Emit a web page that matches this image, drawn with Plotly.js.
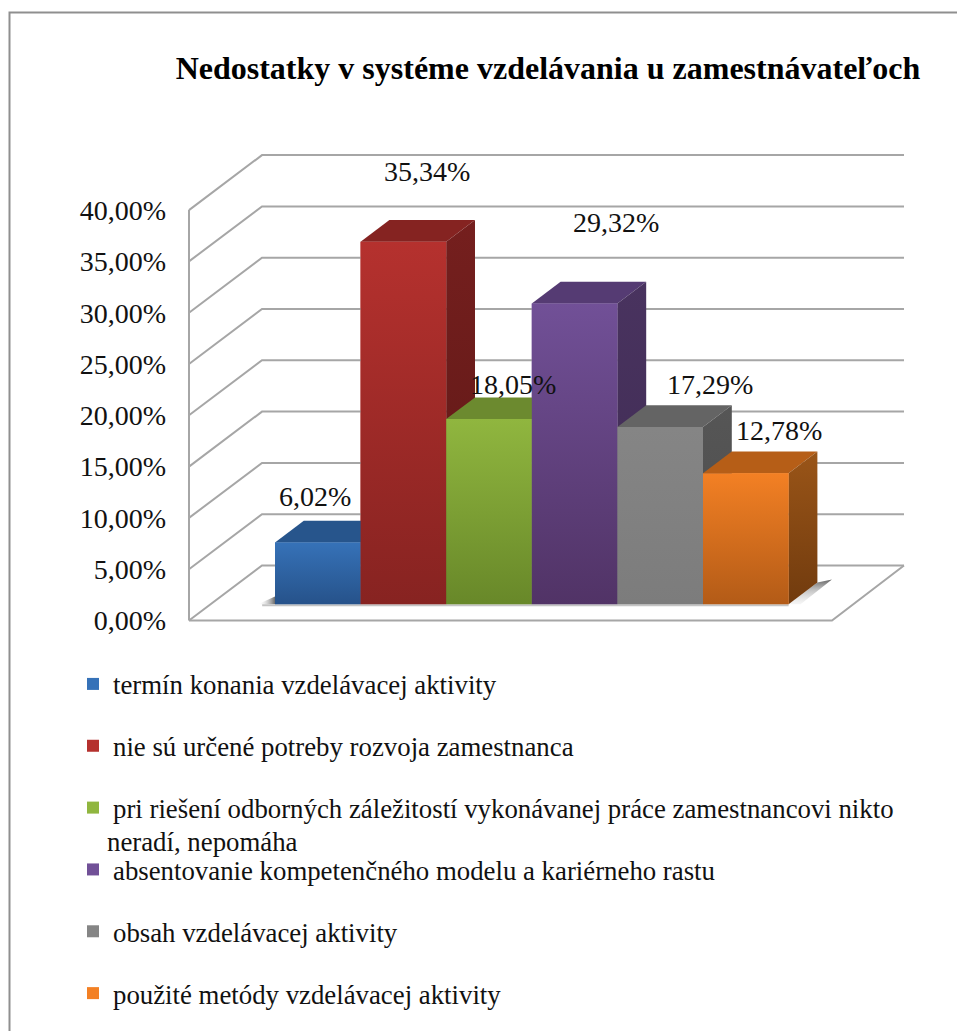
<!DOCTYPE html>
<html>
<head>
<meta charset="utf-8">
<script src="https://cdn.plot.ly/plotly-3.0.1.min.js"></script>
<style>html,body{margin:0;padding:0;background:#fff;overflow:hidden}</style>
</head>
<body>
<div id="chart" style="width:957px;height:1031px"></div>
<script>
// Survey results: shortcomings in employers' training systems
const chartTitle = 'Nedostatky v systéme vzdelávania u zamestnávateľoch';
const categories = [
  'termín konania vzdelávacej aktivity',
  'nie sú určené potreby rozvoja zamestnanca',
  'pri riešení odborných záležitostí vykonávanej práce zamestnancovi nikto',
  'absentovanie kompetenčného modelu a kariérneho rastu',
  'obsah vzdelávacej aktivity',
  'použité metódy vzdelávacej aktivity'
];
const legendContinuation = 'neradí, nepomáha';
const values = [6.02, 35.34, 18.05, 29.32, 17.29, 12.78];
const valueLabels = ['6,02%', '35,34%', '18,05%', '29,32%', '17,29%', '12,78%'];
const tickValues = [0, 5, 10, 15, 20, 25, 30, 35, 40];
const tickLabels = ['0,00%', '5,00%', '10,00%', '15,00%', '20,00%', '25,00%', '30,00%', '35,00%', '40,00%'];

// Face colours per series
const frontTop = ['#3672b8', '#b5312e', '#90b63f', '#715097', '#858585', '#f38024'];
const frontBottom = ['#26528a', '#872321', '#688829', '#513366', '#7c7c7c', '#b35b17'];
const topFace = ['#27558c', '#852321', '#6c8a2f', '#553b73', '#646464', '#b65e17'];
const sideTop = ['#1f4673', '#751f1e', '#58722a', '#49335f', '#565656', '#9a5518'];
const sideBottom = ['#1a3a60', '#5e1816', '#485d20', '#3f2b53', '#4c4c4c', '#713b0e'];

// Label placement relative to the front edge of each bar's top, in pixels
const labelShiftX = [-3, 24, 24, 41, 50, 33];
const labelShiftY = [46, 70, 35, 81, 42, 43];

// Pseudo-3D geometry, expressed in axis units (bar width = 1 on x, percent on y)
const pxPerX = 85.6, pxPerY = 10.26;
const originX = 275, originY = 620.5;
const plotLeft = 185, plotRight = 910, plotTop = 140, plotBottom = 631;
const wallX = (189 - originX) / pxPerX;
const wallDepthX = 73 / pxPerX, wallDepthY = 55 / pxPerY;
const wallRight = (904 - originX) / pxPerX;
const floorRight = (832 - originX) / pxPerX;
const barBase = (620.5 - 604.3) / pxPerY;
const barDepthX = 28.8 / pxPerX, barDepthY = 21.7 / pxPerY;

// Wall and floor grid as one polyline with breaks
const gridX = [], gridY = [];
tickValues.forEach(t => {
  gridX.push(wallX, wallX + wallDepthX, wallRight, null);
  gridY.push(t, t + wallDepthY, t + wallDepthY, null);
});
gridX.push(wallRight, floorRight, wallX, null, wallX, wallX);
gridY.push(wallDepthY, 0, 0, null, 0, tickValues[tickValues.length - 1]);

const traces = [];

// Real bars carry the values and the legend entries
categories.forEach((name, i) => {
  traces.push({
    type: 'bar', name: name, x: [i + 0.5], y: [values[i]], base: [barBase], width: [1],
    legendgroup: 'g' + i,
    marker: {color: frontTop[i], line: {width: 0}},
    hoverinfo: 'skip'
  });
});

traces.push({
  type: 'scatter', mode: 'lines', x: gridX, y: gridY, showlegend: false, hoverinfo: 'skip',
  line: {color: '#a6a6a6', width: 2}
});

// Soft cast shadows on the floor, either side of the bar row
const last = categories.length;
traces.push({
  type: 'scatter', mode: 'none', showlegend: false, hoverinfo: 'skip',
  x: [last, last + barDepthX, last + barDepthX + 0.17, last + 0.14, last],
  y: [barBase, barBase + barDepthY, barBase + barDepthY + 0.3, barBase, barBase],
  fill: 'toself',
  fillgradient: {type: 'vertical', colorscale: [[0, 'rgba(225,225,225,0.3)'], [0.6, 'rgba(170,170,170,0.75)'], [1, 'rgba(85,85,85,0.9)']]}
});
traces.push({
  type: 'scatter', mode: 'none', showlegend: false, hoverinfo: 'skip',
  x: [-0.2, 0, 0, -0.2],
  y: [barBase, barBase, barBase + 0.75, barBase],
  fill: 'toself',
  fillgradient: {type: 'horizontal', colorscale: [[0, 'rgba(255,255,255,0)'], [1, 'rgba(90,90,90,0.9)']]}
});
traces.push({
  type: 'scatter', mode: 'lines', showlegend: false, hoverinfo: 'skip',
  x: [-0.15, last], y: [barBase - 0.1, barBase - 0.1],
  line: {color: '#c4c4c4', width: 2}
});

// Each bar's faces, painted left to right so nearer faces overlap correctly
categories.forEach((name, i) => {
  const v = values[i] + barBase;
  const l = i, r = i + 1;
  const dx = barDepthX, dy = barDepthY;
  const face = (x, y, style) => traces.push(Object.assign({
    type: 'scatter', mode: 'none', x: x, y: y, fill: 'toself',
    showlegend: false, hoverinfo: 'skip', legendgroup: 'g' + i
  }, style));
  face([l, l + dx, r + dx, r, l], [v, v + dy, v + dy, v, v], {fillcolor: topFace[i]});
  face([r, r + dx, r + dx, r, r], [v, v + dy, barBase + dy, barBase, v],
    {fillgradient: {type: 'vertical', colorscale: [[0, sideBottom[i]], [1, sideTop[i]]]}});
  face([l, r, r, l, l], [barBase, barBase, v, v, barBase],
    {fillgradient: {type: 'vertical', colorscale: [[0, frontBottom[i]], [1, frontTop[i]]]}});
});

const plotW = plotRight - plotLeft, plotH = plotBottom - plotTop;
const pageX = px => (px - plotLeft) / plotW;
const pageY = py => (plotBottom - py) / plotH;

const serif = '"Liberation Serif", "Times New Roman", serif';

const annotations = categories.map((c, i) => ({
  x: i + 0.5, y: values[i] + barBase, text: valueLabels[i], showarrow: false,
  xanchor: 'center', yanchor: 'middle', xshift: labelShiftX[i], yshift: labelShiftY[i],
  font: {family: serif, size: 28, color: '#111'}
}));
annotations.push({
  xref: 'paper', yref: 'paper', x: pageX(105), y: pageY(842), text: legendContinuation,
  showarrow: false, xanchor: 'left', yanchor: 'middle',
  font: {family: serif, size: 26.8, color: '#111'}
});

const layout = {
  width: 957, height: 1031,
  margin: {l: plotLeft, r: 957 - plotRight, t: plotTop, b: 1031 - plotBottom, pad: 0, autoexpand: false},
  paper_bgcolor: '#fff', plot_bgcolor: 'rgba(0,0,0,0)',
  barmode: 'overlay',
  title: {
    text: '<b>' + chartTitle + '</b>', x: 548 / 957, xanchor: 'center', xref: 'container',
    y: 1 - 68 / 1031, yanchor: 'middle', yref: 'container',
    font: {family: serif, size: 32, color: '#000'}
  },
  xaxis: {
    range: [(plotLeft - originX) / pxPerX, (plotRight - originX) / pxPerX],
    showgrid: false, zeroline: false, showline: false, showticklabels: false, ticks: ''
  },
  yaxis: {
    range: [(originY - plotBottom) / pxPerY, (originY - plotTop) / pxPerY],
    tickmode: 'array', tickvals: tickValues, ticktext: tickLabels,
    showgrid: false, zeroline: false, showline: false, ticks: '',
    ticklabelstandoff: 18,
    tickfont: {family: serif, size: 28, color: '#111'}
  },
  legend: {
    x: pageX(73), y: pageY(660), xanchor: 'left', yanchor: 'top',
    bgcolor: 'rgba(0,0,0,0)', borderwidth: 0,
    traceorder: 'grouped', tracegroupgap: 24, itemclick: false, itemdoubleclick: false,
    font: {family: serif, size: 26.8, color: '#111'}
  },
  annotations: annotations,
  // Frame around the chart area, running off the page to the right and bottom
  shapes: [{
    type: 'path', xref: 'paper', yref: 'paper',
    path: 'M' + pageX(9.5) + ',' + pageY(1040) + ' L' + pageX(9.5) + ',' + pageY(12.5) + ' L' + pageX(965) + ',' + pageY(12.5),
    line: {color: '#8f8f8f', width: 2}
  }]
};

Plotly.newPlot('chart', traces, layout, {displayModeBar: false, responsive: false});
</script>
</body>
</html>
